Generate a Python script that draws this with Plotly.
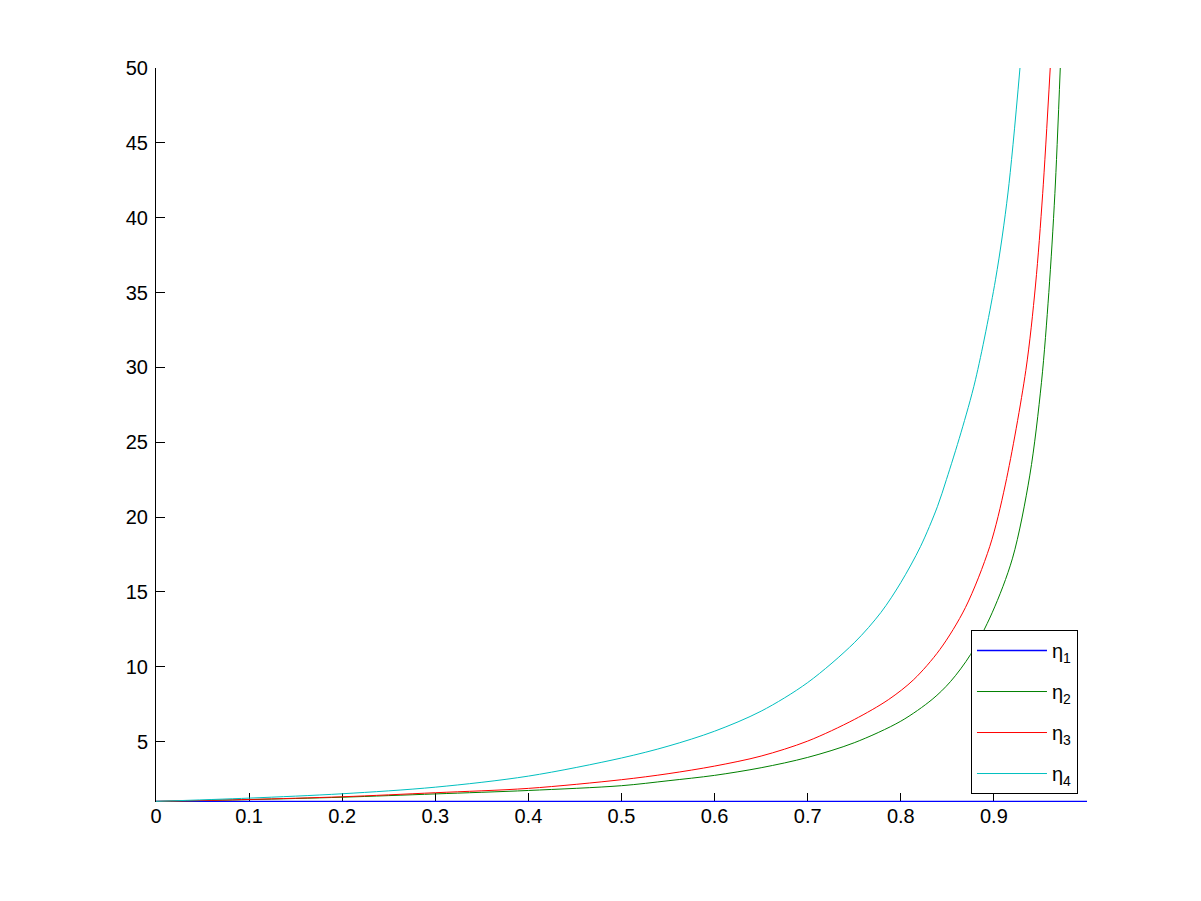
import plotly.graph_objects as go

# Data
x_eta1 = [0.0, 1.0]
y_eta1 = [1.0, 1.0]

x_eta2 = [0, 0.1, 0.2, 0.3, 0.4, 0.5, 0.55, 0.6, 0.65, 0.7, 0.75, 0.8, 0.8336,
          0.8533, 0.875, 0.8981, 0.92, 0.9386, 0.9511, 0.9590, 0.9655, 0.9713]
y_eta2 = [1, 1.12, 1.28, 1.5, 1.73, 2.05, 2.38, 2.74, 3.25, 3.94, 4.92, 6.36, 7.81,
          9.0, 10.82, 13.6, 17.25, 22.8, 29.0, 35.0, 41.6, 50]

x_eta3 = [0, 0.1, 0.2, 0.3, 0.4, 0.5, 0.55, 0.6, 0.65, 0.7, 0.75, 0.787, 0.8139,
          0.842, 0.8694, 0.8956, 0.9124, 0.9343, 0.9447, 0.9524, 0.9605]
y_eta3 = [1, 1.13, 1.31, 1.58, 1.87, 2.45, 2.85, 3.36, 4.03, 5.03, 6.47, 7.81, 9.14,
          11.15, 13.95, 18.04, 22.2, 29.8, 35.5, 41.6, 50]

x_eta4 = [0, 0.1, 0.2, 0.3, 0.4, 0.5, 0.55, 0.6, 0.65, 0.7, 0.75, 0.7786, 0.8,
          0.8211, 0.8393, 0.849, 0.8646, 0.8802, 0.9017, 0.9151, 0.928]
y_eta4 = [1, 1.22, 1.51, 1.95, 2.69, 3.9, 4.69, 5.69, 7.03, 8.94, 11.6, 13.62, 15.62,
          18.02, 20.69, 22.5, 25.63, 29.17, 35.85, 41.65, 50]

x_tickvals = [0, 0.1, 0.2, 0.3, 0.4, 0.5, 0.6, 0.7, 0.8, 0.9]
x_ticktext = ["0", "0.1", "0.2", "0.3", "0.4", "0.5", "0.6", "0.7", "0.8", "0.9"]
y_tickvals = [5, 10, 15, 20, 25, 30, 35, 40, 45, 50]
y_ticktext = ["5", "10", "15", "20", "25", "30", "35", "40", "45", "50"]

names = ["η<sub>1</sub>", "η<sub>2</sub>", "η<sub>3</sub>", "η<sub>4</sub>"]
colors = ["#0000ff", "#008000", "#ff0000", "#00bfbf"]
widths = [1.5, 1, 1, 1]
series = [(x_eta1, y_eta1), (x_eta2, y_eta2), (x_eta3, y_eta3), (x_eta4, y_eta4)]

FONT = "Arial, Liberation Sans, sans-serif"

fig = go.Figure()
for i, (xs, ys) in enumerate(series):
    fig.add_trace(go.Scatter(
        x=xs, y=ys, mode="lines", name=names[i],
        legendgroup=f"g{i}",
        line=dict(color=colors[i], width=widths[i], shape="spline", smoothing=0.9),
    ))

fig.update_layout(
    width=1201, height=901,
    margin=dict(l=148, r=122, t=60, b=107),
    paper_bgcolor="white", plot_bgcolor="white",
    font=dict(family=FONT, size=20, color="black"),
    showlegend=True,
    legend=dict(
        x=0.9903, y=0.2343, xanchor="right", yanchor="top",
        bgcolor="white", bordercolor="black", borderwidth=1,
        font=dict(family=FONT, size=20, color="black"),
        tracegroupgap=12, itemwidth=70,
    ),
    xaxis=dict(
        range=[0, 1], tickmode="array", tickvals=x_tickvals, ticktext=x_ticktext,
        ticks="inside", ticklen=9, tickcolor="black", tickwidth=1,
        showline=False,
        showgrid=False, zeroline=False, layer="below traces",
        tickfont=dict(family=FONT, size=20, color="black"),
    ),
    yaxis=dict(
        range=[0.96, 50], tickmode="array", tickvals=y_tickvals, ticktext=y_ticktext,
        ticks="inside", ticklen=9, tickcolor="black", tickwidth=1,
        showline=True, linecolor="black", linewidth=1,
        showgrid=False, zeroline=False, layer="below traces",
        ticklabelstandoff=3,
        tickfont=dict(family=FONT, size=20, color="black"),
    ),
)

fig.write_html("out.html")
